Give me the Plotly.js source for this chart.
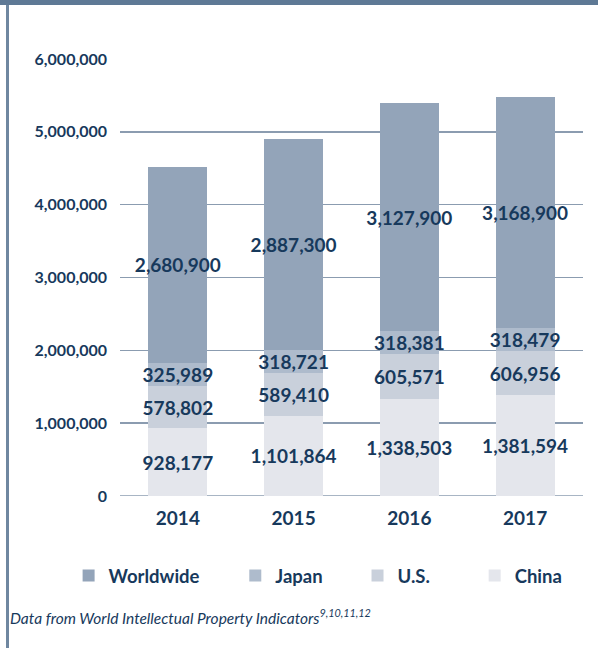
<!DOCTYPE html>
<html>
<head>
<meta charset="utf-8">
<script src="https://cdn.plot.ly/plotly-3.0.1.min.js"></script>
<style>
  html, body { margin: 0; padding: 0; background: #fff; }
  #wrap { position: relative; width: 598px; height: 648px; overflow: hidden; }
  #topband { position: absolute; left: 0; top: 0; width: 598px; height: 5px; background: #5e7995; }
  #leftline { position: absolute; left: 6px; top: 5px; width: 3px; height: 643px; background: #6f87a0; }
  #chart { position: absolute; left: 0; top: 0; width: 598px; height: 648px; }
</style>
</head>
<body>
<div id="wrap">
  <div id="chart"></div>
  <div id="topband"></div>
  <div id="leftline"></div>
</div>
<script>
const years = ['2014', '2015', '2016', '2017'];
const china = [928177, 1101864, 1338503, 1381594];
const us = [578802, 589410, 605571, 606956];
const japan = [325989, 318721, 318381, 318479];
const worldwide = [2680900, 2887300, 3127900, 3168900];
const yTicks = [0, 1000000, 2000000, 3000000, 4000000, 5000000, 6000000];

const textColor = '#17395c';
const fontFam = 'Lato, "Open Sans", sans-serif';
const fmt = v => v.toLocaleString('en-US');

function mk(name, vals, color, legendId) {
  return {
    type: 'bar', name: name, x: years, y: vals,
    marker: { color: color, line: { width: 0 } },
    text: vals.map(fmt),
    textposition: 'inside', insidetextanchor: 'middle',
    textangle: 0, constraintext: 'none', cliponaxis: false,
    textfont: { family: fontFam, size: 19, color: textColor, weight: 700 },
    hoverinfo: 'skip',
    legend: legendId
  };
}

const data = [
  mk('China', china, '#e4e6ec', 'legend4'),
  mk('U.S.', us, '#c9d0db', 'legend3'),
  mk('Japan', japan, '#aebbcc', 'legend2'),
  mk('Worldwide', worldwide, '#93a4b9', 'legend')
];

const legFont = { family: fontFam, size: 18.5, color: textColor, weight: 700 };
function leg(x) {
  return { x: x, y: -0.183, xanchor: 'left', yanchor: 'middle', orientation: 'h',
           font: legFont, bgcolor: 'rgba(0,0,0,0)', borderwidth: 0, itemwidth: 30 };
}

const layout = {
  width: 598, height: 648,
  margin: { l: 120, r: 15, t: 59, b: 152 },
  paper_bgcolor: 'rgba(0,0,0,0)', plot_bgcolor: 'rgba(0,0,0,0)',
  barmode: 'stack', bargap: 0.49,
  showlegend: true,
  legend: leg(-0.111),
  legend2: leg(0.249),
  legend3: leg(0.513),
  legend4: leg(0.766),
  xaxis: {
    type: 'category', showgrid: false, zeroline: false, showline: false,
    ticks: '', tickfont: { family: fontFam, size: 19, color: textColor, weight: 700 },
    ticklabelstandoff: 9
  },
  yaxis: {
    range: [0, 6000000], tickvals: yTicks, ticktext: yTicks.map(fmt),
    showgrid: true, gridcolor: '#8b9cb0', gridwidth: 1.6,
    zeroline: false, showline: false, ticks: '',
    tickfont: { family: fontFam, size: 16, color: textColor, weight: 700 },
    ticklabelstandoff: 12
  },
  shapes: [{
    type: 'line', xref: 'paper', yref: 'y', x0: 0, x1: 1, y0: 0, y1: 0,
    line: { color: '#8b9cb0', width: 1.6 }, layer: 'below'
  }],
  annotations: [{
    xref: 'paper', yref: 'paper', x: -0.2419, y: -0.275, xanchor: 'left', yanchor: 'middle',
    showarrow: false,
    text: '<i>Data from World Intellectual Property Indicators<sup>9,10,11,12</sup></i>',
    font: { family: fontFam, size: 15.5, color: textColor }
  }]
};

Plotly.newPlot('chart', data, layout, { displayModeBar: false, staticPlot: true });
</script>
</body>
</html>
